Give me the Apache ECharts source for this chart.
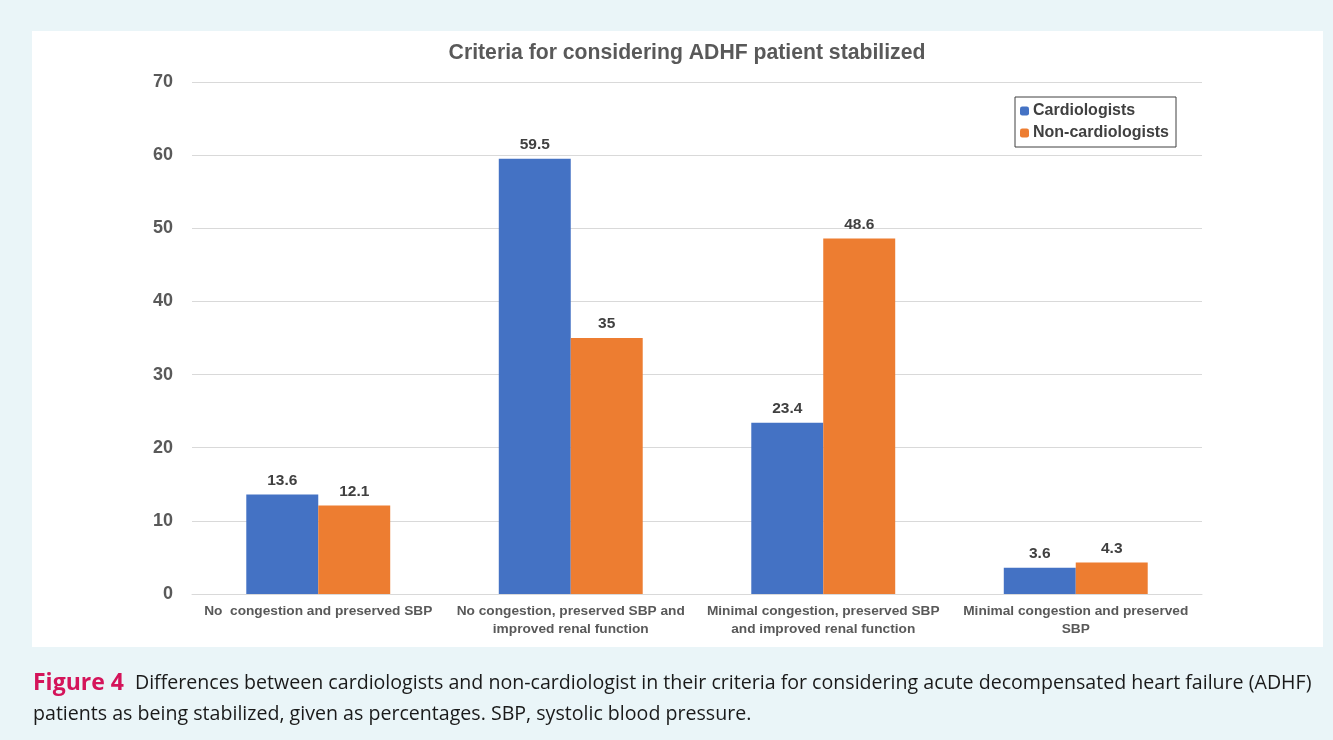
<!DOCTYPE html>
<html><head><meta charset="utf-8">
<script src="https://cdn.jsdelivr.net/npm/echarts@6/dist/echarts.min.js"></script>
<style>html,body{margin:0;padding:0;background:#eaf5f8;}#c{width:1333px;height:740px;}</style>
</head><body><div id="c"></div>
<script>
const categories = [
  "No  congestion and preserved SBP",
  "No congestion, preserved SBP and\nimproved renal function",
  "Minimal congestion, preserved SBP\nand improved renal function",
  "Minimal congestion and preserved\nSBP"
];
const seriesNames = ["Cardiologists", "Non-cardiologists"];
const cardiologists = [13.6, 59.5, 23.4, 3.6];
const nonCardiologists = [12.1, 35, 48.6, 4.3];
const yTicks = [0, 10, 20, 30, 40, 50, 60, 70];
const titleText = "Criteria for considering ADHF patient stabilized";
const captionLabel = "Figure 4";
const captionLine1 = "Differences between cardiologists and non-cardiologist in their criteria for considering acute decompensated heart failure (ADHF)";
const captionLine2 = "patients as being stabilized, given as percentages. SBP, systolic blood pressure.";

const chart = echarts.init(document.getElementById('c'), null, {renderer: 'canvas'});
const ff = 'Liberation Sans, Arial, sans-serif';
const labelStyle = {show: true, position: 'top', fontFamily: ff, fontWeight: 'bold', fontSize: 15.5, color: '#404040', distance: 6};
chart.setOption({
  backgroundColor: '#eaf5f8',
  animation: false,
  title: {text: titleText, left: 682, top: 38, textAlign: 'center',
    textStyle: {fontFamily: ff, fontWeight: 'bold', fontSize: 21.2, color: '#595959'}},
  legend: {data: seriesNames, orient: 'vertical', left: 1015, top: 97,
    borderColor: '#404040', borderWidth: 1, padding: [6, 7, 6, 5], itemWidth: 9, itemHeight: 9, itemGap: 6,
    backgroundColor: '#fff',
    textStyle: {fontFamily: ff, fontWeight: 'bold', fontSize: 16, color: '#404040', padding: [0,0,0,-1]}},
  grid: {left: 192, right: 131, top: 82, bottom: 146, containLabel: false},
  xAxis: {type: 'category', data: categories,
    axisLine: {lineStyle: {color: '#d9d9d9'}}, axisTick: {show: false},
    axisLabel: {fontFamily: ff, fontWeight: 'bold', fontSize: 13.7, color: '#595959', margin: 8, lineHeight: 18, interval: 0}},
  yAxis: {type: 'value', min: 0, max: 70, interval: 10,
    axisLine: {show: false}, axisTick: {show: false},
    splitLine: {lineStyle: {color: '#d9d9d9'}},
    axisLabel: {fontFamily: ff, fontWeight: 'bold', fontSize: 18, color: '#595959', margin: 19,
      formatter: v => yTicks.includes(v) ? String(v) : ''}},
  series: [
    {name: seriesNames[0], type: 'bar', data: cardiologists, barGap: '0%', barCategoryGap: '43%',
      itemStyle: {color: '#4472c4'}, label: labelStyle},
    {name: seriesNames[1], type: 'bar', data: nonCardiologists,
      itemStyle: {color: '#ed7d31'}, label: labelStyle}
  ],
  graphic: [
    {type: 'rect', shape: {x: 32, y: 31, width: 1291, height: 616}, style: {fill: '#ffffff'}, z: -10, silent: true},
    {type: 'text', left: 33, top: 672, z: 10, style: {
      text: '{a|' + captionLabel + '}{s| }{b|' + captionLine1 + '}\n{b|' + captionLine2 + '}',
      rich: {
        a: {fontFamily: 'Open Sans, sans-serif', fontWeight: 'bold', fontSize: 23, fill: '#d4145a', lineHeight: 31},
        s: {fontSize: 19.6, width: 11, lineHeight: 31},
        b: {fontFamily: 'Open Sans, sans-serif', fontSize: 19.6, fill: '#1a1a1a', lineHeight: 31}
      }}}
  ]
});
</script></body></html>
